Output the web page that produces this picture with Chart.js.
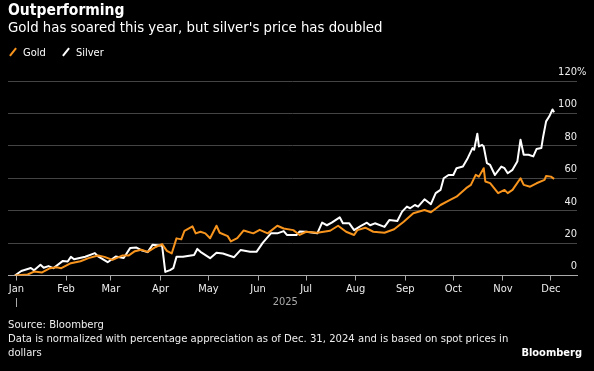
<!DOCTYPE html>
<html>
<head>
<meta charset="utf-8">
<script src="https://cdn.jsdelivr.net/npm/chart.js@4"></script>
<style>
    body { margin: 0; background: #000; }
    #wrap {
        position: relative;
        width: 594px;
        height: 371px;
        background: #000;
        color: #fff;
        font-family: "DejaVu Sans Condensed", "DejaVu Sans", sans-serif;
        overflow: hidden;
    }
    #chart { position: absolute; left: 0; top: 0; }
    .title { position: absolute; left: 8px; top: 1px; font-size: 15.5px; font-weight: bold; line-height: 18px; }
    .subtitle { position: absolute; left: 8px; top: 18px; font-size: 14.8px; line-height: 17px; }
    .legend { position: absolute; left: 8px; top: 46px; font-size: 11px; line-height: 14px; }
    .legend span.item { margin-right: 12px; }
    .legend i {
        display: inline-block;
        width: 2px;
        height: 10px;
        margin: 0 9px -1px 4px;
        transform: rotate(38deg);
    }
    .footer { position: absolute; left: 8px; top: 318px; font-size: 11.2px; line-height: 14px; color: #eee; }
    .brand { position: absolute; right: 12px; top: 346px; font-size: 11px; line-height: 14px; font-weight: bold; }
</style>
</head>
<body>
<div id="wrap">
    <canvas id="chart" width="594" height="371"></canvas>
    <div class="title">Outperforming</div>
    <div class="subtitle">Gold has soared this year, but silver's price has doubled</div>
    <div class="legend">
        <span class="item"><i style="background:#f7941d"></i>Gold</span>
        <span class="item"><i style="background:#fff"></i>Silver</span>
    </div>
    <div class="footer">Source: Bloomberg<br>Data is normalized with percentage appreciation as of Dec. 31, 2024 and is based on spot prices in<br>dollars</div>
    <div class="brand">Bloomberg</div>
</div>
<script>
// Axis labels
const months = ['Jan', 'Feb', 'Mar', 'Apr', 'May', 'Jun', 'Jul', 'Aug', 'Sep', 'Oct', 'Nov', 'Dec'];
const monthStartDays = [0, 31, 59, 90, 120, 151, 181, 212, 243, 273, 304, 334];
const yTicks = [0, 20, 40, 60, 80, 100, 120];
const yearLabel = '2025';

// Gold, % change since Dec 31 2024 (x = day of 2025, Jan 1 = 0)
const goldDays = [-1, 7, 11, 16, 21, 25, 28, 34, 40, 45, 51, 55, 60, 66, 70, 74, 78, 82, 87, 91,
    94, 97, 100, 103, 105, 110, 112, 115, 118, 121, 125, 127, 132, 134, 138, 142, 148, 152, 157, 163,
    167, 173, 177, 181, 188, 196, 201, 206, 211, 213, 218, 223, 230, 236, 242, 248, 255, 259, 265, 271,
    275, 281, 284, 287, 289, 292, 293, 296, 301, 305, 307, 310, 315, 317, 321, 325, 330, 331, 334, 336];
const goldPct = [0, 0.6, 2.4, 1.9, 4.5, 5.1, 4.5, 7.6, 8.8, 10.7, 12.3, 11.5, 9.6, 12.3, 12.3, 15, 15.9, 14.6, 17.6, 19.4,
    15.2, 13.6, 22.9, 22.3, 27.6, 30.3, 26, 27, 26, 23, 30.7, 26.4, 24.3, 21, 23, 27.8, 26, 28.2, 26, 30.7,
    29, 28, 25, 27, 26.4, 27.6, 30.7, 27, 25, 28, 29.5, 27, 26.4, 28.5, 33.2, 38.4, 40.4, 39, 43.5, 46.6,
    48.6, 53.9, 55.9, 62.1, 61, 66.2, 58, 57, 50.8, 52.8, 50.8, 52.8, 60, 55.9, 54.8, 56.9, 59, 61.4, 61, 59.6];

// Silver, % change since Dec 31 2024
const silverDays = [-1, 3, 9, 11, 15, 17, 20, 23, 29, 32, 34, 36, 43, 49, 51, 57, 62, 67, 71, 75,
    78, 82, 85, 91, 93, 96, 98, 100, 104, 111, 113, 115, 121, 125, 129, 136, 140, 146, 150, 154,
    159, 163, 167, 169, 175, 177, 181, 188, 191, 194, 197, 202, 204, 208, 211, 215, 219, 221, 224, 230,
    233, 238, 241, 244, 246, 249, 251, 255, 259, 262, 265, 267, 270, 273, 275, 279, 282, 285, 286, 288,
    289, 291, 292, 294, 296, 299, 303, 305, 307, 310, 313, 315, 317, 320, 323, 325, 328, 329, 331, 333, 335, 336];
const silverPct = [0, 2.8, 4.6, 3.2, 6.6, 4.8, 5.8, 4.5, 9, 8.6, 11.5, 10, 11.6, 13.8, 11.8, 8.2, 11.7, 10.8, 16.9, 17.2,
    15.6, 14.4, 18.9, 18.4, 2.2, 3.3, 4.5, 11.5, 11.5, 12.6, 16.4, 14.6, 10.7, 14, 13.6, 11.3, 15.7, 14.6, 14.6, 20.3,
    26, 26, 27.4, 25, 25, 27.2, 27, 26, 32.6, 31, 32.6, 35.9, 32.2, 32.2, 28, 30.5, 32.6, 31, 32.2, 30,
    34.2, 33.6, 39.4, 42.5, 41.5, 43.5, 42.5, 47, 44, 50.8, 52.8, 60, 62, 62, 66.2, 67.2, 72.4, 78.6, 77.6, 87.5,
    79.6, 80.6, 79.6, 69.3, 68.2, 62, 67.2, 66.2, 63.1, 65.2, 70.3, 83.8, 74.5, 74.5, 73.5, 78, 78.6, 84.8, 95.1, 98.2, 102.4, 100.7];

const FONT = '"DejaVu Sans Condensed", "DejaVu Sans", sans-serif';
const GOLD = '#f7941d';

function toPoints(days, values) {
    return days.map((d, i) => ({ x: d, y: values[i] }));
}

// Value labels above the right end of each gridline, year label under the axis
const extras = {
    id: 'extras',
    afterDraw(chart) {
        const ctx = chart.ctx;
        const x = chart.scales.x;
        const y = chart.scales.y;
        const right = chart.chartArea.right;
        ctx.save();
        ctx.font = '11px ' + FONT;
        ctx.fillStyle = '#eee';
        ctx.textAlign = 'right';
        ctx.textBaseline = 'middle';
        yTicks.forEach(v => {
            const py = y.getPixelForValue(v) - 9;
            ctx.fillText(String(v), right, py);
            if (v === yTicks[yTicks.length - 1]) {
                ctx.textAlign = 'left';
                ctx.fillText('%', right, py);
                ctx.textAlign = 'right';
            }
        });
        // year
        ctx.textAlign = 'center';
        ctx.fillStyle = '#aaa';
        ctx.fillText(yearLabel, x.getPixelForValue(168), 302);
        const jx = Math.round(x.getPixelForValue(0)) + 0.5;
        ctx.strokeStyle = '#aaa';
        ctx.lineWidth = 1;
        ctx.beginPath();
        ctx.moveTo(jx, 298);
        ctx.lineTo(jx, 307);
        ctx.stroke();
        ctx.restore();
    }
};

new Chart(document.getElementById('chart'), {
    type: 'line',
    data: {
        datasets: [{
            label: 'Gold',
            data: toPoints(goldDays, goldPct),
            borderColor: GOLD,
            borderWidth: 2
        }, {
            label: 'Silver',
            data: toPoints(silverDays, silverPct),
            borderColor: '#ffffff',
            borderWidth: 2
        }]
    },
    options: {
        responsive: false,
        animation: false,
        devicePixelRatio: 1,
        layout: {
            padding: { left: 8, right: 17, top: 81, bottom: 65.5 }
        },
        elements: {
            point: { radius: 0 },
            line: { tension: 0, borderJoinStyle: 'round', fill: false }
        },
        plugins: {
            legend: { display: false },
            tooltip: { enabled: false }
        },
        scales: {
            x: {
                type: 'linear',
                min: -5.3,
                max: 350.3,
                afterFit: s => { s.height = 30; },
                afterBuildTicks: s => { s.ticks = monthStartDays.map(v => ({ value: v })); },
                border: { display: true, color: '#aaa', width: 1 },
                grid: { display: true, drawOnChartArea: false, drawTicks: true, tickLength: 5, color: '#aaa' },
                ticks: {
                    autoSkip: false,
                    maxRotation: 0,
                    padding: 2,
                    color: '#eee',
                    font: { family: FONT, size: 11 },
                    callback: (v, i) => months[i]
                }
            },
            y: {
                position: 'right',
                min: 0,
                max: 120,
                afterFit: s => { s.width = 0; },
                afterBuildTicks: s => { s.ticks = yTicks.map(v => ({ value: v })); },
                border: { display: false },
                grid: {
                    drawTicks: false,
                    color: c => c.tick && c.tick.value === 0 ? '#aaa' : '#444'
                },
                ticks: { display: false }
            }
        }
    },
    plugins: [extras]
});
</script>
</body>
</html>
